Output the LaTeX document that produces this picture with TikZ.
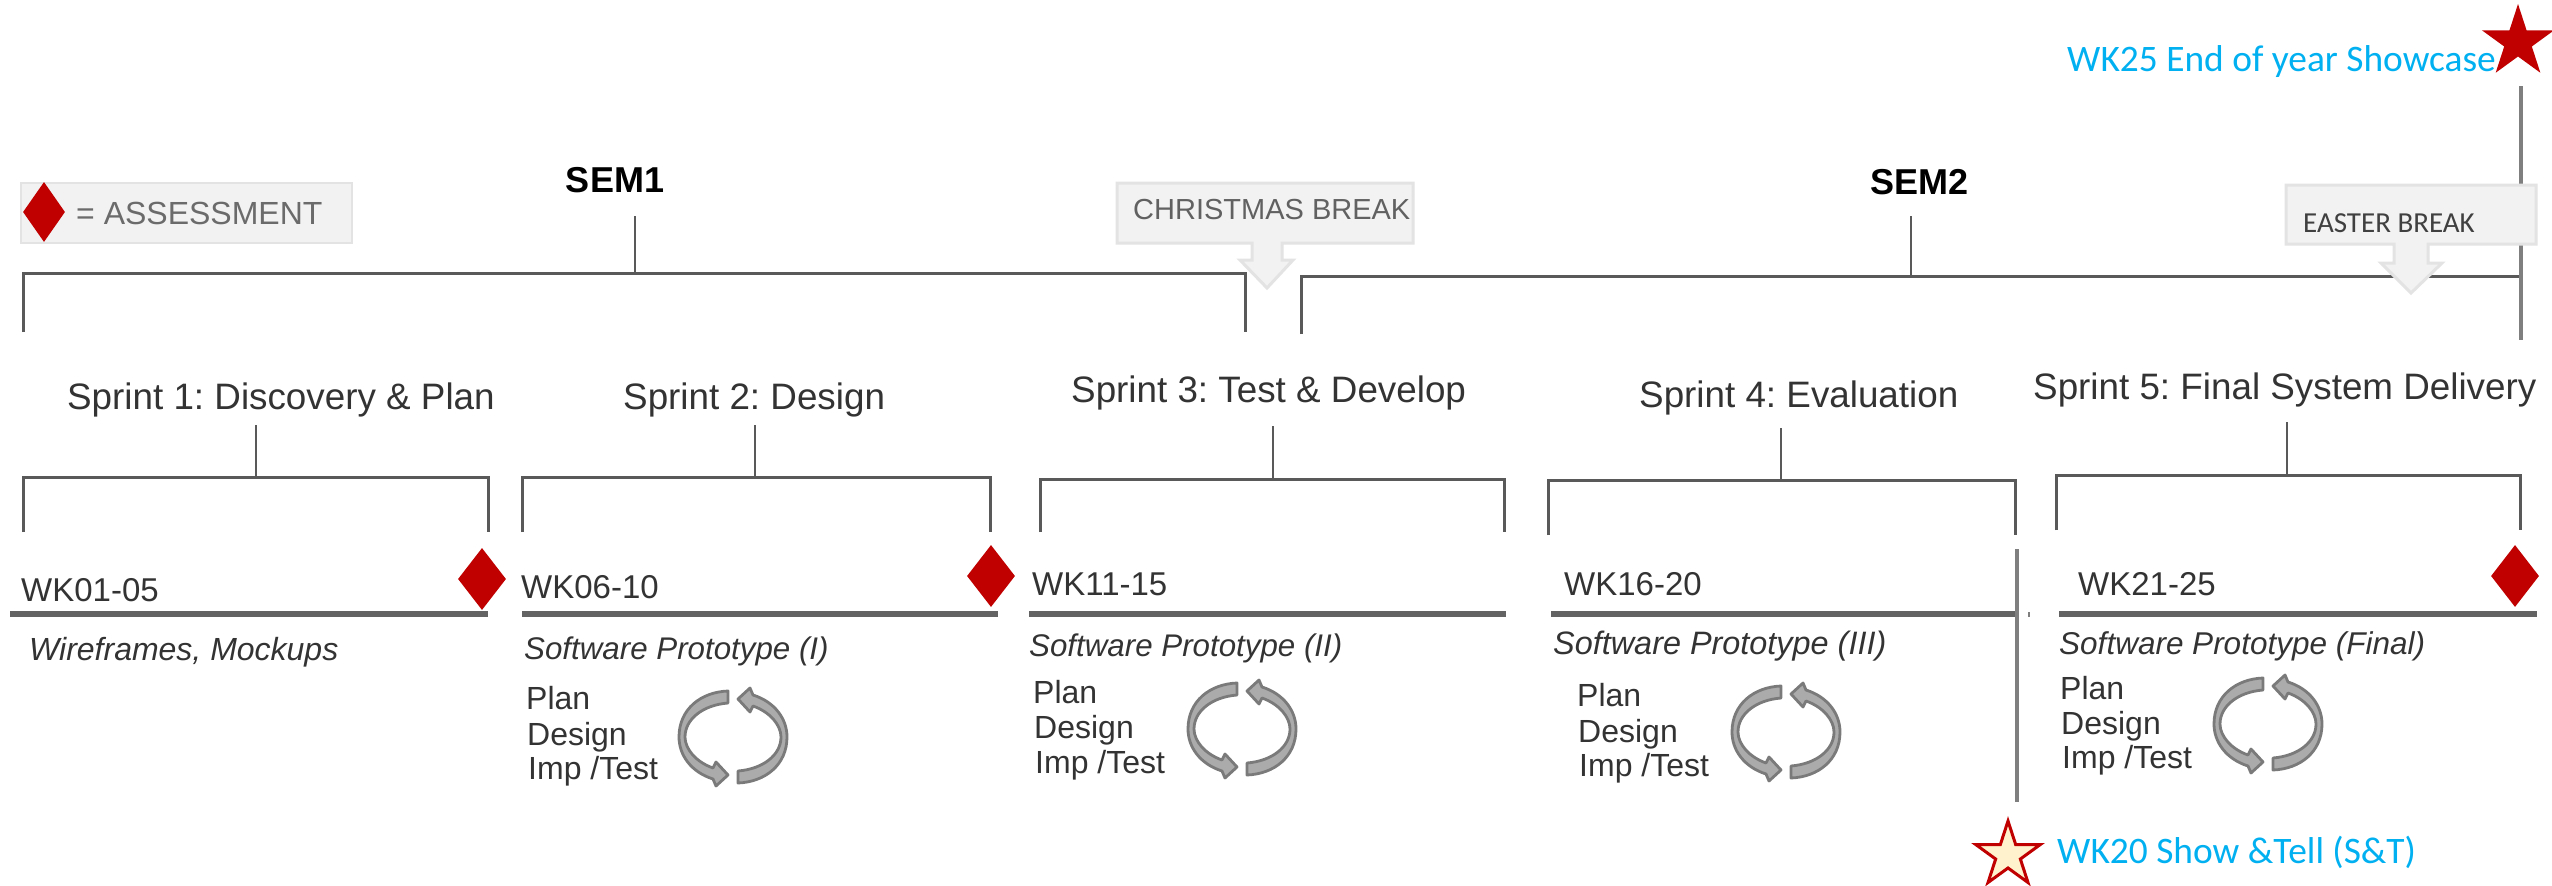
\documentclass[tikz,border=0pt]{standalone}
\usepackage{fontspec}
\setmainfont{Liberation Sans}
\newfontfamily\calibri{Carlito}
\usetikzlibrary{shapes.geometric}
\definecolor{linegrey}{HTML}{595959}
\definecolor{rulegrey}{HTML}{636363}
\definecolor{vertgrey}{HTML}{7F7F7F}
\definecolor{boxfill}{HTML}{F2F2F2}
\definecolor{boxedge}{HTML}{E3E3E3}
\definecolor{cred}{HTML}{C00000}
\definecolor{sky}{HTML}{00B0F0}
\definecolor{starfill}{HTML}{FFF2CC}
\definecolor{textgrey}{HTML}{333333}
\newcommand{\fsz}[1]{\fontsize{#1}{#1}\selectfont\frenchspacing}
\tikzset{
  lbl/.style={inner sep=0pt, anchor=west, text depth=0pt, text=textgrey},
  sprintlbl/.style={lbl, text height=26pt, font=\fsz{36.8}},
  wklbl/.style={lbl, text height=24pt, font=\fsz{33}},
  itlbl/.style={lbl, text height=23pt, font=\fsz{31.3}\itshape},
  steplbl/.style={lbl, text height=23pt, font=\fsz{32}},
  semlbl/.style={lbl, anchor=center, text height=26pt, font=\fsz{36}\bfseries, text=black},
  bracketline/.style={draw=linegrey, line width=3pt, line join=miter},
  stemline/.style={draw=linegrey, line width=2.4pt},
  wkrule/.style={draw=rulegrey, line width=5.5pt},
  vertline/.style={draw=vertgrey, line width=4.5pt},
  assess/.style={diamond, fill=cred, minimum width=48pt, minimum height=62pt, inner sep=0pt},
  callout/.style={fill=boxfill, draw=boxedge, line width=3pt, line join=miter},
  bluelbl/.style={inner sep=0pt, anchor=west, text height=24pt, text depth=0pt, text=sky, font=\calibri\fsz{37.4}},
  solidstar/.style={star, star points=5, star point ratio=2.618, inner sep=0pt, minimum size=76pt},
  cycleshape/.style={fill=black!33, draw=black!52, line width=2.8pt, line join=round},
  pics/cycle/.style={code={
    \path[cycleshape] (-3,-46) .. controls (-30,-45) and (-52,-28) .. (-52,0)
      .. controls (-52,18) and (-40,35) .. (-18,42) -- (-15,49) -- (-3,38) -- (-15,25) -- (-18,31)
      .. controls (-35,25) and (-46,12) .. (-46,0) .. controls (-46,-18) and (-28,-32) .. (-3,-34) -- cycle;
    \begin{scope}[shift={(4,0)},rotate=180]
    \path[cycleshape] (-3,-46) .. controls (-30,-45) and (-52,-28) .. (-52,0)
      .. controls (-52,18) and (-40,35) .. (-18,42) -- (-15,49) -- (-3,38) -- (-15,25) -- (-18,31)
      .. controls (-35,25) and (-46,12) .. (-46,0) .. controls (-46,-18) and (-28,-32) .. (-3,-34) -- cycle;
    \end{scope}
  }}
}
% name, left x, right x, bar y, foot y, stem x, stem top y
\newcommand{\sprintbracket}[7]{
  \coordinate (#1-l) at (#2,#5);
  \coordinate (#1-r) at (#3,#5);
  \coordinate (#1-s) at (#6,#7);
  \coordinate (#1-j) at (#6,#4);
  \draw[bracketline] (#1-l) |- (#1-j) -| (#1-r);
  \draw[stemline] (#1-s) -- (#1-j);
}
\newcommand{\weekrule}[4]{
  \coordinate (#1-a) at (#2,#4);
  \coordinate (#1-b) at (#3,#4);
  \draw[wkrule] (#1-a) -- (#1-b);
}
% name, steps x, y1, y2, y3, cycle x, cycle y
\newcommand{\stepsblock}[7]{
  \node[steplbl] (#1-plan) at (#2,#3) {Plan};
  \node[steplbl] (#1-design) at (#2+1,#4) {Design};
  \node[steplbl] (#1-imp) at (#2+2,#5) {Imp /Test};
  \pic at (#6,#7) {cycle};
}
\begin{document}
\begin{tikzpicture}[x=1pt,y=-1pt]
\useasboundingbox (0,0) rectangle (2552,886);
\fill[white] (0,0) rectangle (2552,886);

% legend
\node[fill=boxfill, draw=boxedge, line width=1.5pt, inner sep=0pt, minimum width=331pt, minimum height=60pt] (legend) at (186.5,213) {};
\node[assess, minimum width=42pt, minimum height=60pt] (legenddia) at (44,212) {};
\node[lbl, text height=23pt, font=\fsz{32}, text=black!58] (legendtxt) at (76,213) {= ASSESSMENT};

% semester brackets
\sprintbracket{semA}{23}{1245}{273}{332}{635}{216}
\sprintbracket{semB}{1301}{2521}{276}{334}{1911}{216}
\node[semlbl] (sem1) at (615,179) {SEM1};
\node[semlbl] (sem2) at (1919,181) {SEM2};

% long verticals
\coordinate (vA) at (2521,86);
\coordinate (vB) at (2521,340);
\draw[vertline] (vA) -- (vB);
\coordinate (vC) at (2017,549);
\coordinate (vD) at (2017,802);
\draw[vertline] (vC) -- (vD);
\coordinate (tA) at (2029,612);
\coordinate (tB) at (2029,617);
\draw[vertgrey, line width=1.5pt] (tA) -- (tB);

% callouts
\path[callout] (1117,183) -- (1413,183) -- (1413,243) -- (1282,243) -- (1282,260) -- (1293,260) -- (1267,288) -- (1240,260) -- (1252,260) -- (1252,243) -- (1117,243) -- cycle;
\node[lbl, text height=21pt, font=\fsz{29}, text=black!62] (xmas) at (1133,209) {CHRISTMAS BREAK};
\path[callout] (2286,185) -- (2536,185) -- (2536,244) -- (2428,244) -- (2428,263) -- (2442,263) -- (2411,293) -- (2381,263) -- (2394,263) -- (2394,244) -- (2286,244) -- cycle;
\node[lbl, font=\calibri\fsz{29}, text height=18pt, text=black!75] (easter) at (2303,223) {EASTER BREAK};

% sprint titles
\node[sprintlbl] (s1) at (67,396) {Sprint 1: Discovery \& Plan};
\node[sprintlbl] (s2) at (623,396) {Sprint 2: Design};
\node[sprintlbl] (s3) at (1071,389) {Sprint 3: Test \& Develop};
\node[sprintlbl] (s4) at (1639,394) {Sprint 4: Evaluation};
\node[sprintlbl] (s5) at (2033,386) {Sprint 5: Final System Delivery};

% sprint brackets
\sprintbracket{b1}{23}{488}{477}{532}{256}{425}
\sprintbracket{b2}{522}{990}{477}{532}{755}{425}
\sprintbracket{b3}{1040}{1504}{479}{532}{1273}{426}
\sprintbracket{b4}{1548}{2015}{480}{535}{1781}{428}
\sprintbracket{b5}{2056}{2520}{475}{530}{2287}{422}

% week rules
\weekrule{r1}{10}{488}{614}
\weekrule{r2}{522}{998}{614}
\weekrule{r3}{1029}{1506}{614}
\weekrule{r4}{1551}{2015}{614}
\weekrule{r5}{2059}{2537}{614}

% week labels
\node[wklbl] (w1) at (21,589) {WK01-05};
\node[wklbl] (w2) at (521,586) {WK06-10};
\node[wklbl] (w3) at (1032,583) {WK11-15};
\node[wklbl] (w4) at (1564,583) {WK16-20};
\node[wklbl] (w5) at (2078,583) {WK21-25};

% assessment diamonds
\node[assess] (d1) at (482,579) {};
\node[assess] (d2) at (991,576) {};
\node[assess] (d3) at (2515,576) {};

% deliverables
\node[itlbl, font=\fsz{32}\itshape] (p1) at (29,649) {Wireframes, Mockups};
\node[itlbl] (p2) at (524,648) {Software Prototype (I)};
\node[itlbl] (p3) at (1029,645) {Software Prototype (II)};
\node[itlbl, font=\fsz{32.4}\itshape] (p4) at (1553,643) {Software Prototype (III)};
\node[itlbl, font=\fsz{31.5}\itshape] (p5) at (2059,643) {Software Prototype (Final)};

% steps
\stepsblock{c2}{526}{698}{734}{768}{731}{737}
\stepsblock{c3}{1033}{692}{727}{762}{1240}{729}
\stepsblock{c4}{1577}{695}{731}{765}{1784}{732}
\stepsblock{c5}{2060}{688}{723}{757}{2266}{724}

% showcase markers
\node[solidstar, fill=cred] (st1) at (2518,42) {};
\node[bluelbl] (t1) at (2067,59) {WK25 End of year Showcase};
\node[solidstar, minimum size=68pt, fill=starfill, draw=cred, line width=3pt] (st2) at (2008,855) {};
\node[bluelbl] (t2) at (2057,851) {WK20 Show \&Tell (S\&T)};
\end{tikzpicture}
\end{document}
